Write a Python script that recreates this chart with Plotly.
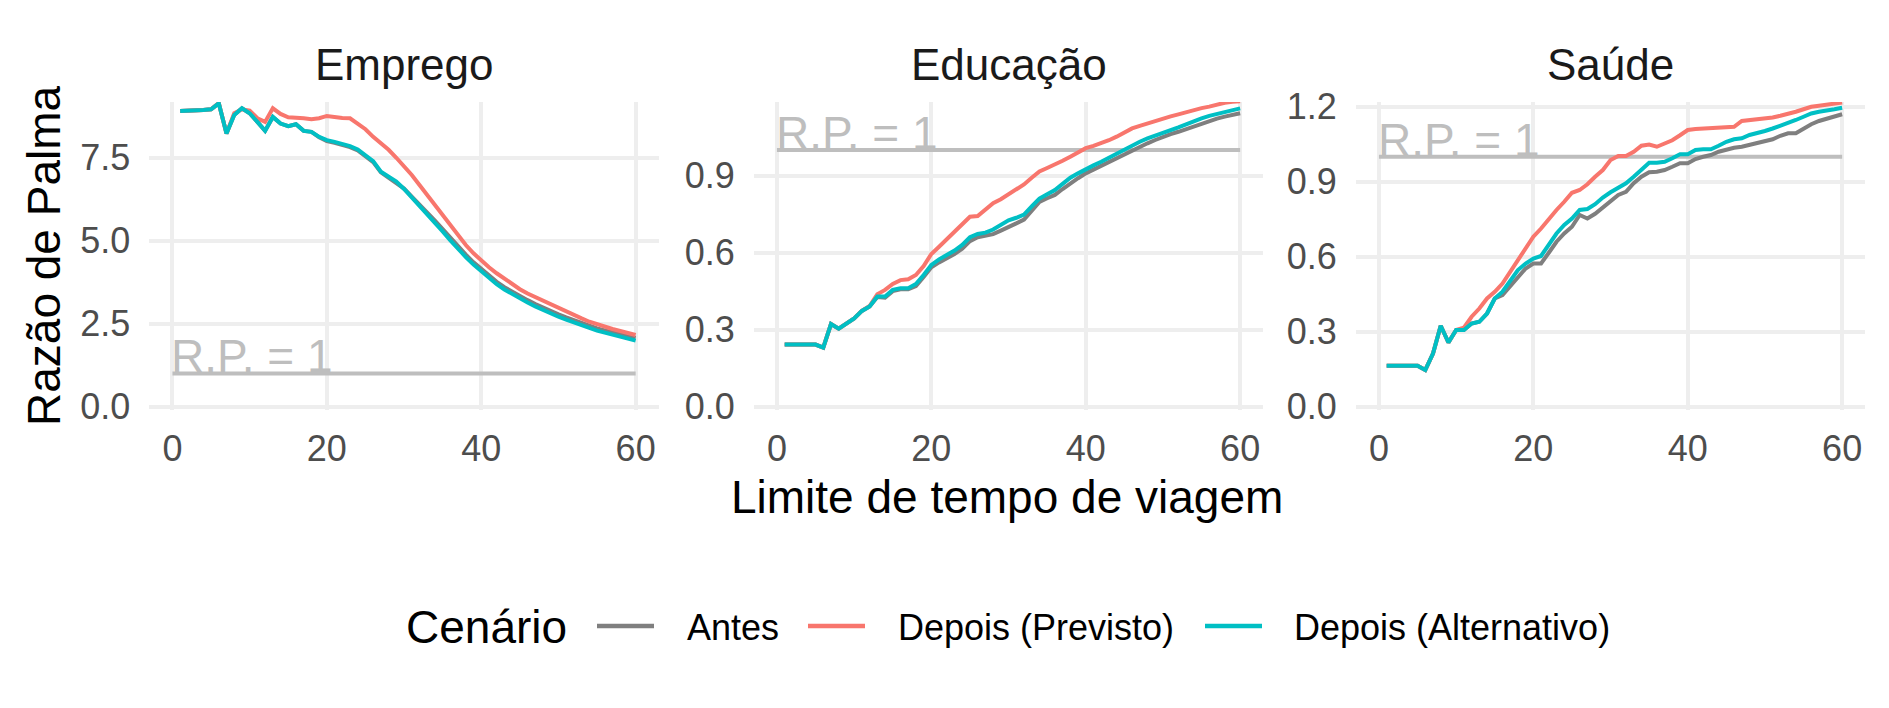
import plotly.graph_objects as go

W, H = 1889, 708
FONT = "Liberation Sans, Arial, sans-serif"

# ---------------- data ----------------
minutes = list(range(1, 61))
panels = ["Emprego", "Educação", "Saúde"]
scenarios = ["Antes", "Depois (Previsto)", "Depois (Alternativo)"]
scenario_colors = ["#7F7F7F", "#F8766D", "#00BFC4"]

emprego_antes = [8.91, 8.91, 8.94, 8.94, 8.96, 9.14, 8.23, 8.79, 8.99, 8.84,
                 8.58, 8.31, 8.73, 8.53, 8.45, 8.51, 8.31, 8.28, 8.12, 8.00,
                 7.95, 7.90, 7.82, 7.72, 7.55, 7.37, 7.06, 6.90, 6.76, 6.57,
                 6.33, 6.10, 5.86, 5.61, 5.35, 5.08, 4.82, 4.58, 4.35, 4.14,
                 3.94, 3.76, 3.60, 3.46, 3.33, 3.21, 3.09, 2.98, 2.88, 2.78,
                 2.69, 2.60, 2.51, 2.43, 2.36, 2.30, 2.24, 2.18, 2.13, 2.07]
emprego_previsto = [8.91, 8.91, 8.94, 8.94, 8.96, 9.15, 8.23, 8.84, 8.96, 8.92,
                    8.69, 8.58, 8.99, 8.82, 8.72, 8.72, 8.69, 8.66, 8.69, 8.76,
                    8.72, 8.70, 8.69, 8.52, 8.36, 8.13, 7.95, 7.74, 7.50, 7.25,
                    6.98, 6.68, 6.38, 6.08, 5.78, 5.47, 5.16, 4.87, 4.62, 4.40,
                    4.20, 4.02, 3.85, 3.69, 3.54, 3.41, 3.30, 3.19, 3.07, 2.96,
                    2.86, 2.76, 2.66, 2.56, 2.48, 2.41, 2.34, 2.28, 2.22, 2.16]
emprego_alternativo = [8.91, 8.91, 8.94, 8.94, 8.96, 9.14, 8.23, 8.79, 8.99, 8.84,
                       8.58, 8.31, 8.73, 8.53, 8.45, 8.51, 8.31, 8.28, 8.13, 8.03,
                       7.98, 7.93, 7.85, 7.75, 7.58, 7.40, 7.08, 6.92, 6.78, 6.56,
                       6.31, 6.06, 5.81, 5.55, 5.28, 5.01, 4.75, 4.51, 4.28, 4.07,
                       3.87, 3.69, 3.53, 3.39, 3.26, 3.14, 3.02, 2.91, 2.81, 2.71,
                       2.62, 2.53, 2.44, 2.36, 2.29, 2.23, 2.17, 2.11, 2.05, 1.99]

educacao_antes = [0.242, 0.242, 0.242, 0.242, 0.242, 0.230, 0.322, 0.304, 0.325, 0.344,
                  0.373, 0.390, 0.427, 0.425, 0.450, 0.457, 0.457, 0.470, 0.505, 0.543,
                  0.562, 0.578, 0.595, 0.615, 0.645, 0.660, 0.665, 0.672, 0.686, 0.702,
                  0.714, 0.729, 0.765, 0.798, 0.812, 0.825, 0.848, 0.870, 0.890, 0.909,
                  0.924, 0.939, 0.954, 0.968, 0.984, 1.000, 1.013, 1.026, 1.039, 1.052,
                  1.062, 1.071, 1.082, 1.093, 1.103, 1.113, 1.122, 1.130, 1.137, 1.143]
educacao_previsto = [0.242, 0.242, 0.242, 0.242, 0.242, 0.230, 0.322, 0.304, 0.325, 0.344,
                     0.373, 0.392, 0.438, 0.455, 0.478, 0.493, 0.496, 0.513, 0.548, 0.595,
                     0.623, 0.652, 0.682, 0.710, 0.740, 0.743, 0.766, 0.793, 0.808, 0.828,
                     0.846, 0.866, 0.892, 0.916, 0.930, 0.942, 0.958, 0.974, 0.992, 1.007,
                     1.016, 1.026, 1.038, 1.052, 1.068, 1.084, 1.094, 1.104, 1.114, 1.123,
                     1.131, 1.139, 1.148, 1.156, 1.163, 1.169, 1.177, 1.184, 1.188, 1.190]
educacao_alternativo = [0.242, 0.242, 0.242, 0.242, 0.242, 0.230, 0.322, 0.304, 0.325, 0.344,
                        0.373, 0.390, 0.429, 0.429, 0.455, 0.461, 0.461, 0.478, 0.513, 0.552,
                        0.574, 0.591, 0.608, 0.630, 0.660, 0.673, 0.678, 0.690, 0.708, 0.726,
                        0.736, 0.748, 0.780, 0.811, 0.828, 0.844, 0.868, 0.892, 0.909, 0.926,
                        0.940, 0.954, 0.970, 0.987, 1.003, 1.019, 1.032, 1.045, 1.055, 1.065,
                        1.077, 1.088, 1.100, 1.113, 1.123, 1.133, 1.141, 1.149, 1.156, 1.162]

saude_antes = [0.164, 0.164, 0.164, 0.164, 0.164, 0.147, 0.213, 0.324, 0.257, 0.307,
               0.307, 0.333, 0.340, 0.373, 0.433, 0.447, 0.483, 0.520, 0.553, 0.573,
               0.573, 0.616, 0.660, 0.693, 0.720, 0.767, 0.753, 0.772, 0.797, 0.820,
               0.847, 0.860, 0.894, 0.920, 0.938, 0.940, 0.947, 0.960, 0.974, 0.974,
               0.991, 1.000, 1.007, 1.020, 1.030, 1.036, 1.040, 1.047, 1.053, 1.060,
               1.070, 1.084, 1.094, 1.094, 1.113, 1.130, 1.143, 1.153, 1.164, 1.170]
saude_previsto = [0.164, 0.164, 0.164, 0.164, 0.164, 0.147, 0.213, 0.324, 0.257, 0.307,
                  0.316, 0.360, 0.393, 0.433, 0.460, 0.493, 0.540, 0.587, 0.627, 0.680,
                  0.713, 0.753, 0.787, 0.820, 0.856, 0.867, 0.890, 0.920, 0.947, 0.987,
                  1.003, 1.003, 1.020, 1.044, 1.049, 1.040, 1.053, 1.066, 1.086, 1.107,
                  1.111, 1.113, 1.113, 1.117, 1.120, 1.120, 1.143, 1.147, 1.147, 1.153,
                  1.157, 1.164, 1.170, 1.180, 1.190, 1.200, 1.204, 1.209, 1.213, 1.217]
saude_alternativo = [0.164, 0.164, 0.164, 0.164, 0.164, 0.147, 0.213, 0.324, 0.257, 0.307,
                     0.307, 0.333, 0.340, 0.373, 0.433, 0.460, 0.507, 0.547, 0.573, 0.593,
                     0.603, 0.647, 0.693, 0.727, 0.753, 0.787, 0.791, 0.810, 0.837, 0.858,
                     0.876, 0.894, 0.920, 0.947, 0.976, 0.976, 0.980, 0.994, 1.010, 1.010,
                     1.027, 1.030, 1.030, 1.044, 1.060, 1.070, 1.074, 1.087, 1.094, 1.103,
                     1.113, 1.123, 1.133, 1.147, 1.160, 1.173, 1.180, 1.187, 1.190, 1.196]

rp_x = [0, 60]
rp_y = [1, 1]
rp_label = "R.P. = 1"
x_ticks = [0, 20, 40, 60]
y_ticks = [[0, 2.5, 5.0, 7.5], [0, 0.3, 0.6, 0.9], [0, 0.3, 0.6, 0.9, 1.2]]

series = [
    [emprego_antes, emprego_previsto, emprego_alternativo],
    [educacao_antes, educacao_previsto, educacao_alternativo],
    [saude_antes, saude_previsto, saude_alternativo],
]

# ---------------- layout geometry (pixels) ----------------
def px(x):
    return x / W

def py(y):
    return 1 - y / H

panel_left = [149.3, 753.8, 1355.8]
panel_right = [658.8, 1263.3, 1865.3]
panel_top, panel_bottom = 102, 410
y_ranges = [[-0.10, 9.18], [-0.013, 1.187], [-0.013, 1.219]]
GRID = "#EEEEEE"

fig = go.Figure()

for p in range(3):
    xa = "x" if p == 0 else f"x{p+1}"
    ya = "y" if p == 0 else f"y{p+1}"
    fig.add_trace(go.Scatter(x=rp_x, y=rp_y, mode="lines", xaxis=xa, yaxis=ya,
                             line=dict(color="#BEBEBE", width=4), showlegend=False,
                             hoverinfo="skip"))
    for s in range(3):
        fig.add_trace(go.Scatter(x=minutes, y=series[p][s], mode="lines",
                                 name=scenarios[s], xaxis=xa, yaxis=ya,
                                 line=dict(color=scenario_colors[s], width=4),
                                 showlegend=False))
    fig.add_annotation(x=rp_x[0], y=rp_y[0], xref=xa, yref=ya, text=rp_label,
                       showarrow=False, xanchor="left", yanchor="bottom",
                       yshift=-11, xshift=-3,
                       font=dict(family=FONT, size=46, color="#BEBEBE"))
    # panel titles
    fig.add_annotation(x=px((panel_left[p] + panel_right[p]) / 2), y=py(64),
                       xref="paper", yref="paper", text=panels[p], showarrow=False,
                       xanchor="center", yanchor="middle",
                       font=dict(family=FONT, size=44, color="#1A1A1A"))

axis_font = dict(family=FONT, size=36, color="#4D4D4D")
layout = dict(
    width=W, height=H,
    margin=dict(l=0, r=0, t=0, b=0),
    paper_bgcolor="white", plot_bgcolor="white",
    showlegend=False,
)
for p in range(3):
    xk = "xaxis" if p == 0 else f"xaxis{p+1}"
    yk = "yaxis" if p == 0 else f"yaxis{p+1}"
    xa = "x" if p == 0 else f"x{p+1}"
    ya = "y" if p == 0 else f"y{p+1}"
    layout[xk] = dict(domain=[px(panel_left[p]), px(panel_right[p])], anchor=ya,
                      range=[-3, 63], tickvals=x_ticks, ticks="",
                      showgrid=True, gridcolor=GRID, gridwidth=3.5,
                      zeroline=False, showline=False, tickfont=axis_font,
                      ticklabelstandoff=14, automargin=False)
    layout[yk] = dict(domain=[py(panel_bottom), py(panel_top)], anchor=xa,
                      range=y_ranges[p], tickvals=y_ticks[p], tickformat=".1f",
                      ticks="", showgrid=True, gridcolor=GRID, gridwidth=3.5,
                      zeroline=False, showline=False, tickfont=axis_font,
                      ticklabelstandoff=18, automargin=False)
fig.update_layout(**layout)

# axis titles
fig.add_annotation(x=px(44), y=py(256), xref="paper", yref="paper",
                   text="Razão de Palma", textangle=-90, showarrow=False,
                   xanchor="center", yanchor="middle",
                   font=dict(family=FONT, size=46, color="black"))
fig.add_annotation(x=px(1007), y=py(497), xref="paper", yref="paper",
                   text="Limite de tempo de viagem", showarrow=False,
                   xanchor="center", yanchor="middle",
                   font=dict(family=FONT, size=46, color="black"))

# legend (drawn manually to match key geometry)
leg_y = 627
fig.add_annotation(x=px(404), y=py(leg_y), xref="paper", yref="paper",
                   text="Cenário", showarrow=False, xanchor="left", yanchor="middle",
                   font=dict(family=FONT, size=46, color="black"))
key_x0 = [597, 808, 1205]
text_x0 = [685, 896, 1292]
for s in range(3):
    fig.add_shape(type="line", xref="paper", yref="paper",
                  x0=px(key_x0[s]), x1=px(key_x0[s] + 57), y0=py(leg_y - 1), y1=py(leg_y - 1),
                  line=dict(color=scenario_colors[s], width=4.5))
    fig.add_annotation(x=px(text_x0[s]), y=py(leg_y), xref="paper", yref="paper",
                       text=scenarios[s], showarrow=False, xanchor="left", yanchor="middle",
                       font=dict(family=FONT, size=36, color="black"))

fig.write_html("out.html", config={"displayModeBar": False},
               post_script="document.body.style.margin='0px';document.body.style.overflow='hidden';")
